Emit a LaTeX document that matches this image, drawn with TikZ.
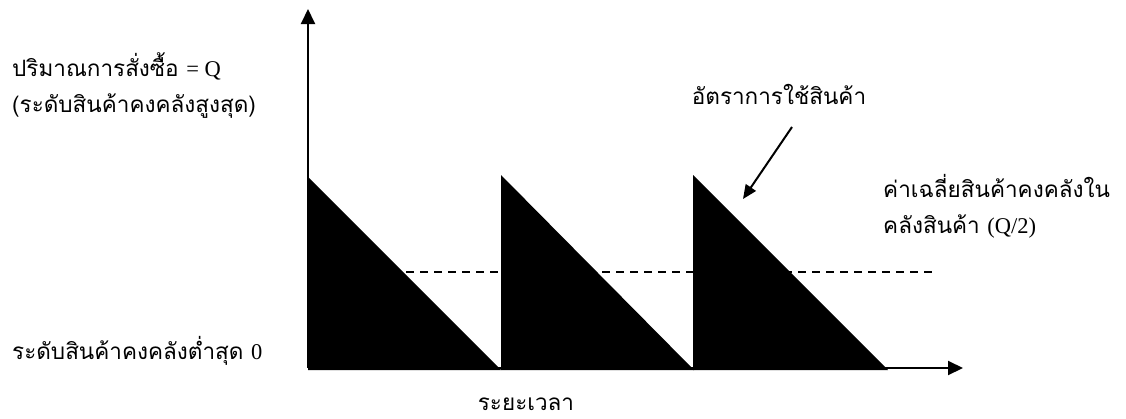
\documentclass[tikz,border=0pt]{standalone}
\usepackage{fontspec}
\setmainfont{Liberation Serif}
\newfontfamily\thai[Script=Thai]{Loma}
\newfontfamily\lat{Liberation Serif}
\usetikzlibrary{arrows.meta}
\begin{document}
\begin{tikzpicture}[x=1pt,y=-1pt,
  lbl/.style={inner sep=0pt,font=\fontsize{22.5}{26}\selectfont\thai},
  axis/.style={line width=2pt,-{Triangle[length=15pt,width=14pt]}},
  pointer/.style={line width=2pt,-{Triangle[length=14pt,width=12pt]}},
  saw/.style={fill=black},
  avg/.style={line width=1.5pt,dash pattern=on 8pt off 6pt}]
\useasboundingbox (0,0) rectangle (1126,418);
% sawtooth
\fill[saw] (308,177) -- (308,370) -- (501,370) -- cycle;
\fill[saw] (501,175) -- (501,370) -- (694,370) -- cycle;
\fill[saw] (693,175) -- (693,370) -- (888,370) -- cycle;
% average line
\coordinate (a1) at (308,272);
\coordinate (a2) at (937,272);
\draw[avg] (a1) -- (a2);
% axes
\coordinate (O) at (308,368);
\coordinate (Ytop) at (308,9);
\coordinate (Xend) at (963,368);
\draw[axis] (O) -- (Ytop);
\draw[axis] (O) -- (Xend);
% labels
\node[lbl,anchor=west] (q) at (12,66) {ปริมาณการสั่งซื้อ {\lat = Q}};
\node[lbl,anchor=west] (qmax) at (12,106) {(ระดับสินค้าคงคลังสูงสุด)};
\node[lbl,anchor=west] (qmin) at (12,351) {ระดับสินค้าคงคลังต่ำสุด {\lat 0}};
\node[lbl,anchor=base] (time) at (526,410) {ระยะเวลา};
\node[lbl] (rate) at (779,94) {อัตราการใช้สินค้า};
\node[lbl,anchor=west] (avg1) at (883,186) {ค่าเฉลี่ยสินค้าคงคลังใน};
\node[lbl,anchor=west] (avg2) at (883,226) {คลังสินค้า {\lat (Q/2)}};
% pointer
\coordinate (p1) at (792,127);
\coordinate (p2) at (743,199);
\draw[pointer] (p1) -- (p2);
\end{tikzpicture}
\end{document}
